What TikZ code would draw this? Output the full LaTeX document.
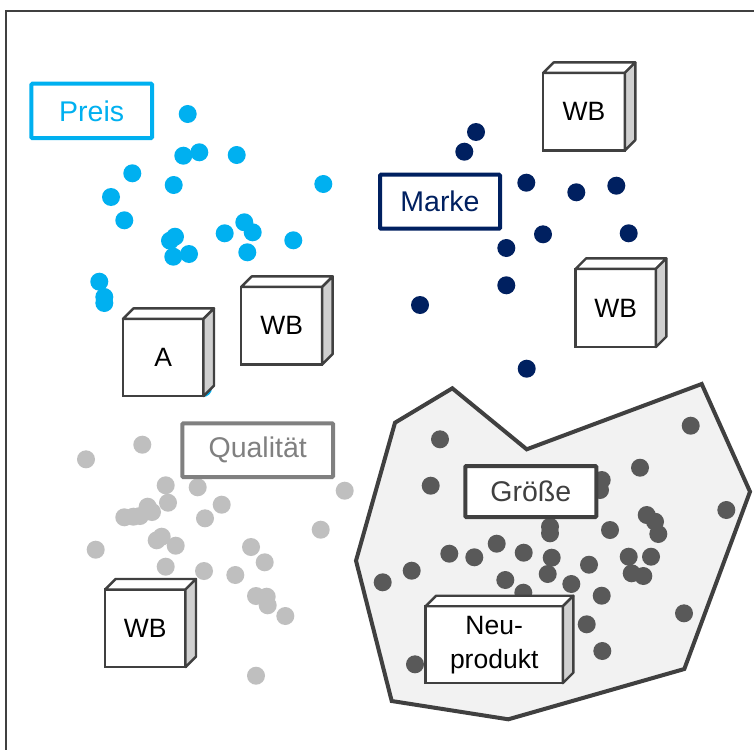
\documentclass[tikz,border=0pt]{standalone}
\usepackage{fontspec}
\setmainfont{Liberation Sans}
\begin{document}
\begin{tikzpicture}[x=1pt,y=-1pt]
\definecolor{cyanc}{HTML}{00B0F0}
\definecolor{navyc}{HTML}{002060}
\definecolor{lgrey}{HTML}{BFBFBF}
\definecolor{dgrey}{HTML}{595959}
\definecolor{mgrey}{HTML}{808080}
\definecolor{edge}{HTML}{404040}
\definecolor{polyfill}{HTML}{F2F2F2}
\definecolor{sideface}{HTML}{D0D0D0}
\tikzset{
  labelbox/.style={draw, line width=4pt, rounded corners=1pt, fill=white, inner sep=0pt, outer sep=0pt, font=\fontsize{28.5}{30}\selectfont},
  cubefront/.style={draw=edge, line width=2.4pt, fill=white, inner sep=0pt, outer sep=0pt, align=center, font=\fontsize{26.5}{33}\selectfont},
  cubeface/.style={draw=edge, line width=2.4pt, line join=round},
}
\newcommand\mycube[6]{%
  \node[cubefront, minimum width=#4, minimum height=#5] (#1) at (#2,#3) {#6};
  \draw[cubeface, fill=white] (#1.north west) -- ([shift={(10.5,-10.5)}]#1.north west) -- ([shift={(10.5,-10.5)}]#1.north east) -- (#1.north east) -- cycle;
  \draw[cubeface, fill=sideface] (#1.north east) -- ([shift={(10.5,-10.5)}]#1.north east) -- ([shift={(10.5,-10.5)}]#1.south east) -- (#1.south east) -- cycle;
}
\useasboundingbox (0,0) rectangle (754,749);
\fill[white] (0,0) rectangle (754,749);
% frame
\draw[edge, line width=2pt] (6,760) -- (6,11) -- (760,11);
% polygon
\draw[edge, fill=polyfill, line width=4pt, line join=miter] (452.3,388.3) -- (526.7,449.3) -- (701.7,384) -- (750,491.7) -- (684.3,669) -- (508.3,719.3) -- (391.7,701) -- (356,560.7) -- (395,422.7) -- cycle;
% dots
\foreach \p in {(187.7,114),(183.3,155.7),(199.3,152.3),(236.7,155),(132.3,173.3),(173.7,185),(323.3,184),(111,197),(124.3,220.3),(170,240.7),(175,236.7),(173.3,256.7),(189,254),(224.7,233.3),(244.3,222.3),(252.7,232.3),(247.3,252.3),(293.3,240.3),(99.3,281.7),(104.3,297),(104.3,303),(203,388)}
  \fill[cyanc] \p circle (9);
\foreach \p in {(476,132),(464.3,151.7),(526.3,182.7),(576.3,192.3),(616.3,185.7),(543,234.3),(628.7,233.3),(506.3,248),(506.3,285.3),(420,305),(526.7,368.7)}
  \fill[navyc] \p circle (9);
\foreach \p in {(142.3,444.7),(86,459.3),(165.7,485.3),(197.7,487.3),(168,502.7),(221.7,504.7),(147.7,506.7),(152,512),(140,516),(133.3,516.7),(124.3,517.3),(205,518.3),(344.7,490.7),(320.7,529.7),(156.7,540.3),(161.7,536.7),(175.7,545.7),(95.7,549.7),(251,547),(264.7,562.3),(165.7,566.7),(204,571),(235.3,575),(256,596),(266.7,596.7),(267.7,605.3),(285.3,616),(256,675.7)}
  \fill[lgrey] \p circle (9);
\foreach \p in {(440,439.3),(430.7,485.7),(690.7,425.7),(640,467.7),(601.7,480),(600,490),(726.3,510),(646.7,515),(655,521.7),(658.3,534),(550,526.7),(550,533.3),(610,530),(496.7,543.7),(449.3,553.7),(474.3,557.3),(523.7,552.7),(551.7,557.7),(547.7,574),(589,564.7),(628.7,556.7),(651,556.7),(631.7,573.3),(643.3,576),(411.7,570.7),(382.7,582.3),(505.3,580),(571.3,584),(523.3,592.7),(601.7,595.7),(684,613.3),(586.7,624.3),(602.3,651),(415,664.3)}
  \fill[dgrey] \p circle (9);
% label boxes
\node[labelbox, draw=cyanc, text=cyanc, minimum width=120.7, minimum height=54.3] (preis) at (91.7,110.9) {Preis};
\node[labelbox, draw=navyc, text=navyc, minimum width=120, minimum height=54] (marke) at (440,201.7) {Marke};
\node[labelbox, draw=mgrey, text=mgrey, minimum width=150.7, minimum height=53.7] (qual) at (257.7,450.2) {Qualität};
\node[labelbox, draw=edge, text=edge, minimum width=131, minimum height=51] (groesse) at (530.8,491.5) {Größe};
% cubes
\mycube{cA}{163.2}{357.5}{80.6}{77.2}{A}
\mycube{wbA}{281.7}{325.7}{80.9}{77.6}{WB}
\mycube{wbB}{584}{111.7}{81.6}{77.6}{WB}
\mycube{wbC}{615.7}{308}{80.3}{78.2}{WB}
\mycube{wbD}{145.3}{628.3}{80.3}{77.6}{WB}
\mycube{neu}{494.2}{644.7}{137.3}{76.9}{Neu-\\[1pt]produkt}
\end{tikzpicture}
\end{document}
